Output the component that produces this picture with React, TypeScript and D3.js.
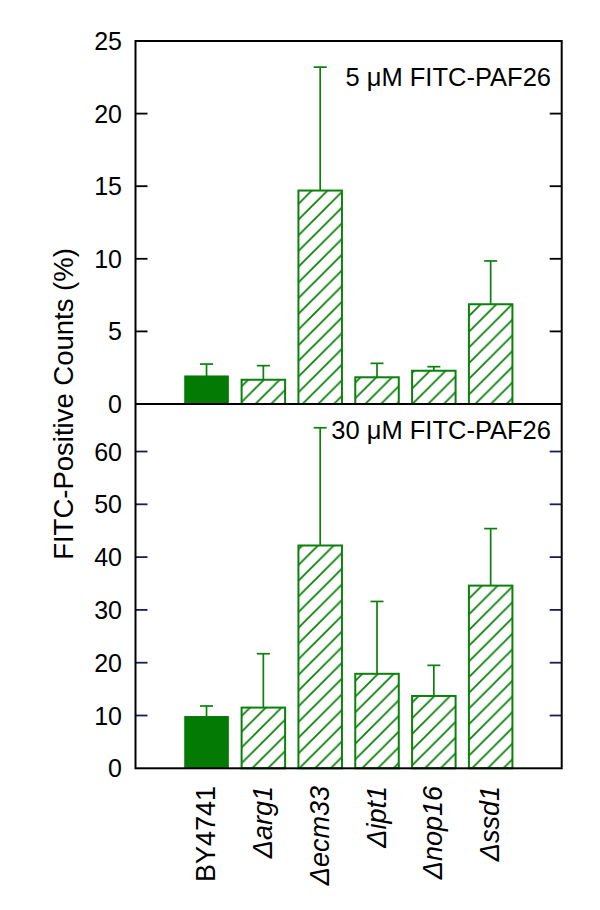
import React from 'react';
import * as d3 from 'd3';

// strains on the x axis
const strains = ['BY4741', 'arg1', 'ecm33', 'ipt1', 'nop16', 'ssd1'];

// 5 uM FITC-PAF26 (top panel): mean and SD
const mean5 = [1.93, 1.67, 14.7, 1.84, 2.29, 6.87];
const sd5 = [0.82, 0.97, 8.5, 0.96, 0.28, 2.98];

// 30 uM FITC-PAF26 (bottom panel): mean and SD
const mean30 = [9.8, 11.5, 42.2, 17.9, 13.7, 34.6];
const sd30 = [2.0, 10.2, 22.3, 13.7, 5.8, 10.8];

const ticks5 = [0, 5, 10, 15, 20, 25];
const ticks30 = [0, 10, 20, 30, 40, 50, 60];

const W = 600;
const H = 910;
const left = 135.5;
const right = 561.7;
const top = 41;
const mid = 404;
const bottom = 768.3;

const green = '#0b800b';
const font = '"Liberation Sans", Arial, sans-serif';

const x = d3.scalePoint<string>().domain(strains).range([left, right]).padding(1.25);
const barW = 43.5;
const capW = 13;

const y5 = d3.scaleLinear().domain([0, 25]).range([mid, top]);
const y30 = d3.scaleLinear().domain([0, 69]).range([bottom, mid]);

function Panel({ means, sds, y, ticks, tickColor, label, labelY }) {
  return (
    <g>
      {strains.map((s, i) => {
        const cx = x(s)!;
        const y0 = y(0);
        const yt = y(means[i]);
        const ye = y(means[i] + sds[i]);
        return (
          <g key={s}>
            <line x1={cx} x2={cx} y1={yt} y2={ye} stroke={green} strokeWidth={1.7} />
            <line x1={cx - capW / 2} x2={cx + capW / 2} y1={ye} y2={ye} stroke={green} strokeWidth={1.7} />
            {i === 0 ? (
              <rect x={cx - barW / 2} y={yt} width={barW} height={y0 - yt} fill="#037a03" stroke="#037a03" strokeWidth={1} />
            ) : (
              <g>
                <rect x={cx - barW / 2} y={yt} width={barW} height={y0 - yt} fill="#fff" />
                <rect x={cx - barW / 2} y={yt} width={barW} height={y0 - yt} fill="url(#hatch)" stroke={green} strokeWidth={2} />
              </g>
            )}
          </g>
        );
      })}
      {ticks.filter(t => t > 0 && y(t) > y.range()[1] + 1).map(t => (
        <g key={'t' + t}>
          <line x1={left} x2={left + 12} y1={y(t)} y2={y(t)} stroke={tickColor} strokeWidth={1.8} />
          <line x1={right - 12} x2={right} y1={y(t)} y2={y(t)} stroke={tickColor} strokeWidth={1.8} />
        </g>
      ))}
      {ticks.map(t => (
        <text key={'l' + t} x={122} y={y(t)} dy="0.36em" textAnchor="end" fontSize={25} fontFamily={font} fill="#000">
          {t}
        </text>
      ))}
      <text x={551} y={labelY} textAnchor="end" fontSize={25.5} fontFamily={font} fill="#000">
        {label}
      </text>
    </g>
  );
}

export default function App() {
  return (
    <svg width={W} height={H} style={{ position: 'absolute', left: 0, top: 0, background: '#fff' }}>
      <defs>
        <pattern id="hatch" patternUnits="userSpaceOnUse" width={15.7} height={15.7}>
          <path d="M-4,4 L4,-4 M0,15.7 L15.7,0 M11.7,19.7 L19.7,11.7" stroke={green} strokeWidth={1.8} />
        </pattern>
      </defs>
      <rect width={W} height={H} fill="#fff" />
      <Panel means={mean5} sds={sd5} y={y5} ticks={ticks5} tickColor="#000" label="5 μM FITC-PAF26" labelY={86} />
      <Panel means={mean30} sds={sd30} y={y30} ticks={ticks30} tickColor="#1b1b5e" label="30 μM FITC-PAF26" labelY={439} />
      {/* frame */}
      <rect x={left} y={top} width={right - left} height={bottom - top} fill="none" stroke="#000" strokeWidth={2} />
      <line x1={left} x2={right} y1={mid} y2={mid} stroke="#000" strokeWidth={2} />
      {/* x labels */}
      {strains.map((s, i) => (
        <text
          key={s}
          transform={`translate(${x(s)! + 8.5},786) rotate(-90)`}
          textAnchor="end"
          fontSize={27}
          fontFamily={font}
          fontStyle={i === 0 ? 'normal' : 'italic'}
          fill="#000"
        >
          {i === 0 ? s : 'Δ' + s}
        </text>
      ))}
      <text transform="translate(73,404) rotate(-90)" textAnchor="middle" fontSize={27.5} fontFamily={font} fill="#000">
        FITC-Positive Counts (%)
      </text>
    </svg>
  );
}
